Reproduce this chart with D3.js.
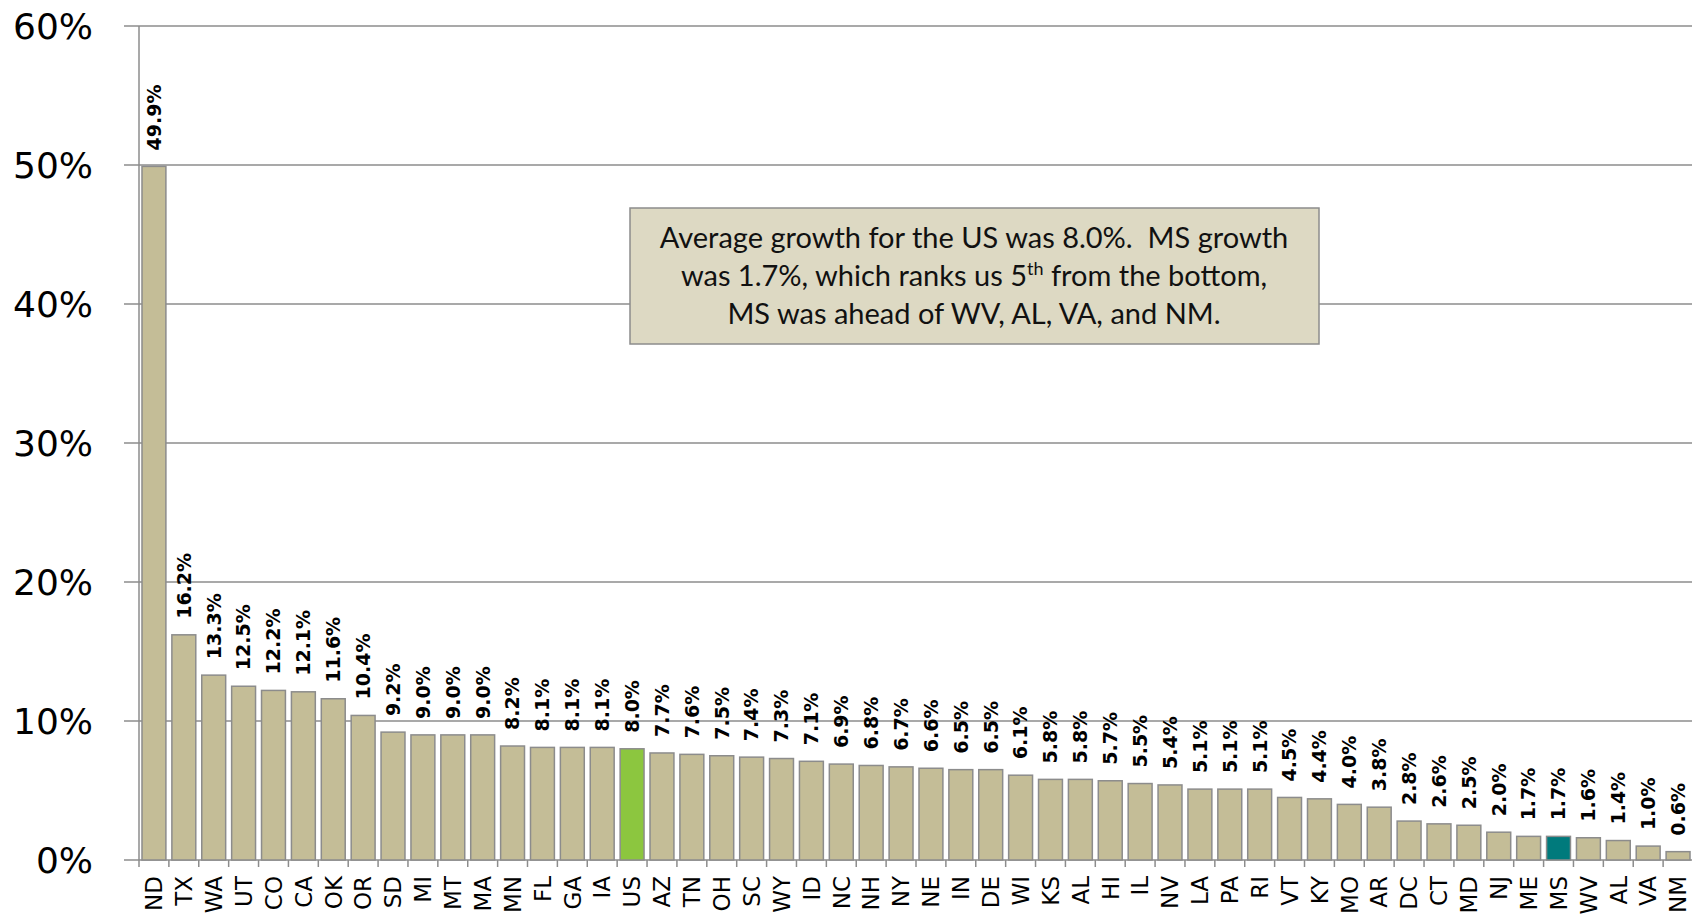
<!DOCTYPE html>
<html>
<head>
<meta charset="utf-8">
<script src="https://cdn.jsdelivr.net/npm/d3@7"></script>
<style>
  body { margin: 0; background: #fff; overflow: hidden; }
  svg { display: block; }
</style>
</head>
<body>
<script>
// state growth, sorted high to low
const states = ["ND","TX","WA","UT","CO","CA","OK","OR","SD","MI","MT","MA","MN","FL","GA","IA","US","AZ","TN","OH","SC","WY","ID","NC","NH","NY","NE","IN","DE","WI","KS","AL","HI","IL","NV","LA","PA","RI","VT","KY","MO","AR","DC","CT","MD","NJ","ME","MS","WV","AL","VA","NM"];
const growth = [49.9,16.2,13.3,12.5,12.2,12.1,11.6,10.4,9.2,9.0,9.0,9.0,8.2,8.1,8.1,8.1,8.0,7.7,7.6,7.5,7.4,7.3,7.1,6.9,6.8,6.7,6.6,6.5,6.5,6.1,5.8,5.8,5.7,5.5,5.4,5.1,5.1,5.1,4.5,4.4,4.0,3.8,2.8,2.6,2.5,2.0,1.7,1.7,1.6,1.4,1.0,0.6];
const yTicks = [0,10,20,30,40,50,60];
const noteLines = ["Average growth for the US was 8.0%.  MS growth", "was 1.7%, which ranks us 5|th| from the bottom,", "MS was ahead of WV, AL, VA, and NM."];

let width = 1692;
let height = 918;
let plotLeft = 139, plotRight = 1693, plotTop = 26, plotBottom = 860;

const svg = d3.select("body").append("svg")
              .attr("width", width)
              .attr("height", height);

let idx = d3.range(states.length);
let x = d3.scaleBand().domain(idx).range([plotLeft, plotRight]).paddingInner(0.2).paddingOuter(0.1);
let y = d3.scaleLinear().domain([0, 60]).range([plotBottom, plotTop]);
let step = x.step();

function barColor(i){
  if(states[i] == "US") return "#8cc63f";
  if(states[i] == "MS") return "#007a7c";
  return "#c4bd97";
}

// gridlines
svg.append("g").selectAll("line").data(yTicks).enter().append("line")
   .attr("x1", plotLeft - 15).attr("x2", width)
   .attr("y1", d => y(d)).attr("y2", d => y(d))
   .attr("stroke", "#8c8c8c").attr("stroke-width", 1.5);

// y tick labels
svg.append("g").selectAll("text").data(yTicks).enter().append("text")
   .attr("x", 93).attr("y", d => y(d)).attr("dy", "0.36em")
   .attr("text-anchor", "end")
   .style("font-family", "DejaVu Sans").style("font-size", "36px")
   .text(d => d + "%");

// y axis line
svg.append("line").attr("x1", plotLeft).attr("x2", plotLeft).attr("y1", plotTop).attr("y2", plotBottom)
   .attr("stroke", "#8c8c8c").attr("stroke-width", 1.5);

// x tick marks between bars
svg.append("g").selectAll("line").data(d3.range(states.length + 1)).enter().append("line")
   .attr("x1", d => plotLeft + d * step).attr("x2", d => plotLeft + d * step)
   .attr("y1", plotBottom).attr("y2", plotBottom + 7)
   .attr("stroke", "#8c8c8c").attr("stroke-width", 1.5);

// bars
svg.append("g").selectAll("rect").data(idx).enter().append("rect")
   .attr("x", i => x(i))
   .attr("y", i => y(growth[i]))
   .attr("width", x.bandwidth())
   .attr("height", i => plotBottom - y(growth[i]))
   .attr("fill", i => barColor(i))
   .attr("stroke", "#8c8c8c").attr("stroke-width", 1.5);

// value labels
svg.append("g").selectAll("text").data(idx).enter().append("text")
   .attr("transform", i => `translate(${x(i) + x.bandwidth() / 2},${y(growth[i]) - 16}) rotate(-90)`)
   .attr("dy", "0.36em")
   .attr("text-anchor", "start")
   .style("font-family", "DejaVu Sans").style("font-weight", "bold").style("font-size", "19px")
   .text(i => growth[i].toFixed(1) + "%");

// category labels
svg.append("g").selectAll("text").data(idx).enter().append("text")
   .attr("transform", i => `translate(${x(i) + x.bandwidth() / 2},876) rotate(-90)`)
   .attr("dy", "0.36em")
   .attr("text-anchor", "end")
   .style("font-family", "DejaVu Sans").style("font-size", "23px")
   .text(i => states[i]);

// note box
let note = svg.append("g");
note.append("rect").attr("x", 630).attr("y", 208).attr("width", 689).attr("height", 136)
    .attr("fill", "#ddd9c3").attr("stroke", "#8c8c8c").attr("stroke-width", 1.5);
noteLines.forEach((line, k) => {
  let t = note.append("text").attr("x", 974).attr("y", 238 + k * 38).attr("dy", "0.35em")
      .attr("text-anchor", "middle")
      .style("white-space", "pre")
      .style("font-family", "Lato").style("font-size", "29px").attr("fill", "#111");
  line.split("|").forEach((part, j) => {
    if(j == 1){
      t.append("tspan").attr("baseline-shift", "super").style("font-size", "18px").text(part);
    }else{
      t.append("tspan").text(part);
    }
  });
});
</script>
</body>
</html>
